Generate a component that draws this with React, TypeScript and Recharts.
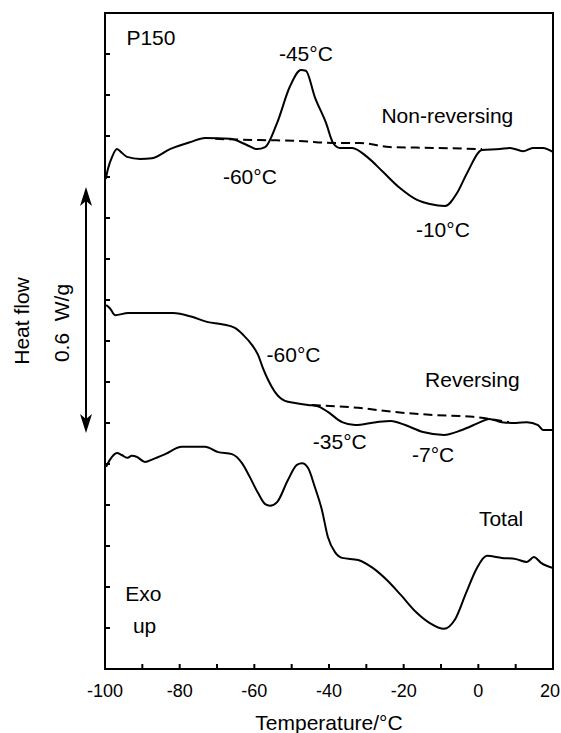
import { LineChart, Line, XAxis, YAxis, ReferenceArea, ReferenceDot, Label } from 'recharts'

// temperature (°C) / heat flow (arbitrary offset units, 1 unit = one y tick)
const nonRevT = [-99.8, -99.2, -98.1, -96.8, -95.5, -94.1, -90.6, -87.4, -82.6, -77.2, -73.2, -66.5, -62.0, -59.3, -57.1, -53.9, -50.5, -47.5, -46.2, -43.8, -40.8, -38.9, -37.1, -33.8, -29.8, -25.5, -21.0, -16.4, -13.0, -8.9, -5.7, -3.0, 1.0, 5.8, 8.5, 12.0, 14.6, 17.3, 20.0]
const nonRevU = [11.95, 12.2, 12.49, 12.68, 12.59, 12.49, 12.44, 12.46, 12.68, 12.85, 12.95, 12.93, 12.78, 12.68, 12.73, 13.32, 14.2, 14.61, 14.59, 13.95, 13.32, 12.83, 12.71, 12.71, 12.49, 12.12, 11.73, 11.44, 11.34, 11.29, 11.61, 12.1, 12.66, 12.68, 12.71, 12.63, 12.71, 12.71, 12.61]

const nonRevBaseT = [-70.5, -58.5, -47.8, -38.9, -31.7, -23.7, -12.1, 1.0]
const nonRevBaseU = [12.93, 12.9, 12.88, 12.83, 12.83, 12.73, 12.71, 12.68]

const revT = [-99.7, -98.7, -97.3, -93.8, -81.8, -76.7, -72.4, -68.7, -65.2, -63.0, -60.6, -59.0, -57.7, -56.3, -54.5, -51.8, -49.1, -45.6, -43.0, -40.3, -36.5, -33.0, -27.4, -23.4, -19.6, -14.8, -9.2, -4.4, 0.5, 2.9, 6.3, 10.1, 13.0, 16.0, 17.3, 20.0]
const revU = [8.88, 8.8, 8.63, 8.68, 8.68, 8.59, 8.46, 8.41, 8.32, 8.15, 7.9, 7.66, 7.34, 7.05, 6.76, 6.54, 6.49, 6.44, 6.41, 6.27, 6.02, 5.95, 6.02, 6.05, 5.95, 5.78, 5.71, 5.83, 6.02, 6.1, 6.02, 6.0, 6.02, 5.95, 5.83, 5.83]

const revBaseT = [-44.6, -32.2, -22.6, -13.0, -1.4, 8.2]
const revBaseU = [6.44, 6.37, 6.27, 6.2, 6.15, 6.02]

const totalT = [-99.7, -98.7, -96.8, -95.5, -94.1, -92.8, -91.4, -89.3, -87.1, -83.9, -79.4, -73.2, -69.7, -66.0, -63.3, -61.2, -59.0, -57.1, -55.8, -53.9, -51.0, -48.6, -47.2, -45.6, -43.8, -41.9, -40.3, -38.4, -36.5, -32.2, -28.2, -24.5, -20.7, -16.7, -13.0, -9.2, -6.3, -3.3, -0.4, 2.3, 6.3, 10.1, 13.0, 14.9, 16.8, 20.0]
const totalU = [4.93, 5.1, 5.27, 5.22, 5.15, 5.2, 5.17, 5.05, 5.12, 5.24, 5.42, 5.42, 5.29, 5.24, 5.02, 4.68, 4.29, 4.02, 3.98, 4.07, 4.61, 4.98, 5.02, 4.9, 4.44, 3.88, 3.22, 2.85, 2.71, 2.66, 2.46, 2.17, 1.8, 1.39, 1.12, 0.98, 1.2, 1.85, 2.46, 2.76, 2.71, 2.68, 2.61, 2.73, 2.59, 2.46]

const xTicks = [-100, -90, -80, -70, -60, -50, -40, -30, -20, -10, 0, 10, 20]
const yTicks = [1, 2, 3, 4, 5, 6, 7, 8, 9, 10, 11, 12, 13, 14, 15]

// annotation text, anchored at its centre in data units
const notes = [
  { text: 'P150', t: -87.7, u: 15.39 },
  { text: '-45°C', t: -46.2, u: 15.0 },
  { text: 'Non-reversing', t: -8.3, u: 13.51 },
  { text: '-60°C', t: -61.2, u: 12.02 },
  { text: '-10°C', t: -9.5, u: 10.71 },
  { text: '-60°C', t: -49.5, u: 7.67 },
  { text: 'Reversing', t: -1.6, u: 7.05 },
  { text: '-35°C', t: -37.1, u: 5.55 },
  { text: '-7°C', t: -12.1, u: 5.22 },
  { text: 'Total', t: 6.1, u: 3.67 },
  { text: 'Exo', t: -89.7, u: 1.83 },
  { text: 'up', t: -89.4, u: 1.05 },
]

const pts = (ts: number[], us: number[]) => ts.map((t, i) => ({ t, u: us[i] }))

// inward tick + label under the axis
function XTick({ x, y, payload }: any) {
  const v = payload.value
  return (
    <g>
      <line x1={x} x2={x} y1={y} y2={y - 5} stroke="#000" strokeWidth={2} />
      {v % 20 === 0 && (
        <text x={v === 20 ? x - 3 : x} y={y + 28} textAnchor="middle" fontSize={18} fill="#000">{v}</text>
      )}
    </g>
  )
}

function YTick({ x, y }: any) {
  return <line x1={x} x2={x + 5} y1={y} y2={y} stroke="#000" strokeWidth={2} />
}

function HeatFlowLabel({ viewBox }: any) {
  const ax = viewBox.x + viewBox.width
  const cy = viewBox.y + viewBox.height / 2
  const arrowX = ax - 19
  const top = cy - 154
  const bot = cy + 92
  return (
    <g>
      <text x={ax - 84} y={cy - 20} transform={`rotate(-90 ${ax - 84} ${cy - 20})`}
        textAnchor="middle" dominantBaseline="central" fontSize={21} fill="#000">Heat flow</text>
      <text x={ax - 44} y={cy - 18} transform={`rotate(-90 ${ax - 44} ${cy - 18})`}
        textAnchor="middle" dominantBaseline="central" fontSize={21} fill="#000"
        style={{ whiteSpace: 'pre' }}>0.6  W/g</text>
      <line x1={arrowX} x2={arrowX} y1={top + 10} y2={bot - 10} stroke="#000" strokeWidth={2} />
      <polygon points={`${arrowX},${top} ${arrowX - 6},${top + 19} ${arrowX},${top + 14} ${arrowX + 6},${top + 19}`} fill="#000" />
      <polygon points={`${arrowX},${bot} ${arrowX - 6},${bot - 19} ${arrowX},${bot - 14} ${arrowX + 6},${bot - 19}`} fill="#000" />
    </g>
  )
}

export default function App() {
  const line = { type: 'monotone' as const, dataKey: 'u', stroke: '#000', strokeWidth: 2, dot: false, isAnimationActive: false }
  return (
    <div style={{ position: 'absolute', left: 0, top: 0, background: '#fff', fontFamily: '"Liberation Sans", Arial, sans-serif' }}>
      <LineChart width={561} height={733} margin={{ top: 13, right: 8, bottom: 0, left: 45 }}>
        <XAxis
          type="number"
          dataKey="t"
          domain={[-100, 20]}
          ticks={xTicks}
          tick={<XTick />}
          tickSize={0}
          tickMargin={0}
          tickLine={false}
          axisLine={{ stroke: '#000', strokeWidth: 2 }}
          height={64}
          interval={0}
          allowDataOverflow
        >
          <Label value="Temperature/°C" position="insideBottom" offset={3} fontSize={21} fill="#000" />
        </XAxis>
        <YAxis
          type="number"
          domain={[0, 16]}
          ticks={yTicks}
          tick={<YTick />}
          tickSize={0}
          tickMargin={0}
          tickLine={false}
          axisLine={{ stroke: '#000', strokeWidth: 2 }}
          width={60}
          interval={0}
          allowDataOverflow
        >
          <Label content={<HeatFlowLabel />} />
        </YAxis>
        <Line {...line} data={pts(nonRevBaseT, nonRevBaseU)} strokeDasharray="9 5" />
        <Line {...line} data={pts(revBaseT, revBaseU)} strokeDasharray="9 5" />
        <Line {...line} data={pts(nonRevT, nonRevU)} />
        <Line {...line} data={pts(revT, revU)} />
        <Line {...line} data={pts(totalT, totalU)} />
        <ReferenceArea x1={-100} x2={20} y1={0} y2={16} fill="none" stroke="#000" strokeWidth={2} />
        {notes.map((n, i) => (
          <ReferenceDot key={i} x={n.t} y={n.u} r={0} fill="none" stroke="none"
            label={{ value: n.text, position: 'center', fontSize: 21, fill: '#000' }} />
        ))}
      </LineChart>
    </div>
  )
}
